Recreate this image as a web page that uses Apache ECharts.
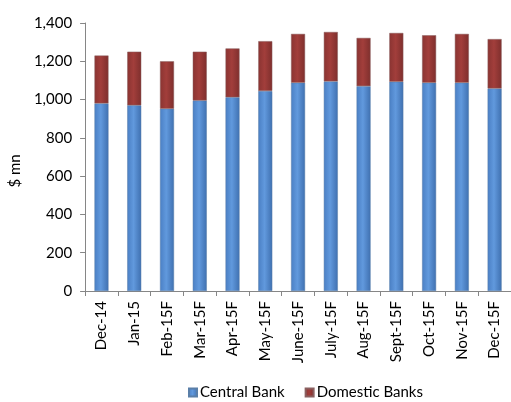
<!DOCTYPE html>
<html><head><meta charset="utf-8">
<script src="https://cdn.jsdelivr.net/npm/echarts@6/dist/echarts.min.js"></script>
<style>html,body{margin:0;padding:0;background:#fff}#c{width:511px;height:402px}</style>
</head><body><div id="c"></div>
<script>
var categories = ['Dec-14','Jan-15','Feb-15F','Mar-15F','Apr-15F','May-15F','June-15F','July-15F','Aug-15F','Sept-15F','Oct-15F','Nov-15F','Dec-15F'];
var centralBank = [980, 970, 952, 995, 1012, 1045, 1088, 1095, 1070, 1093, 1088, 1088, 1058];
var domesticBanks = [250, 280, 248, 255, 255, 260, 255, 258, 252, 255, 248, 255, 258];
var yTicks = [0, 200, 400, 600, 800, 1000, 1200, 1400];

function grad(c1, c2, c3) {
  return new echarts.graphic.LinearGradient(0, 0, 1, 0, [
    {offset: 0, color: c1}, {offset: 0.45, color: c2}, {offset: 1, color: c3}
  ]);
}
var font = 'Lato, "Open Sans", sans-serif';
var chart = echarts.init(document.getElementById('c'), null, {renderer: 'canvas'});
chart.setOption({
  animation: false,
  textStyle: {fontFamily: font},
  grid: {left: 82, top: 23, width: 440, height: 268, containLabel: false},
  legend: {
    bottom: -3, left: 183, itemWidth: 8, itemHeight: 8, itemGap: 20,
    icon: 'rect',
    textStyle: {fontFamily: font, fontSize: 15, color: '#000', padding: [0, 0, 0, -2]},
    data: ['Central Bank', 'Domestic Banks']
  },
  xAxis: {
    type: 'category', data: categories,
    axisLine: {lineStyle: {color: '#868686'}},
    axisTick: {show: true, length: 5, lineStyle: {color: '#868686'}},
    axisLabel: {rotate: 90, color: '#000', fontSize: 15, fontFamily: font, margin: 10, interval: 0}
  },
  yAxis: {
    type: 'value', min: yTicks[0], max: yTicks[yTicks.length - 1], interval: 200,
    name: '$ mn', nameLocation: 'middle', nameGap: 50, nameRotate: 90,
    nameTextStyle: {color: '#000', fontSize: 15, fontFamily: font, padding: [0, 28, 0, 0]},
    axisLine: {show: true, lineStyle: {color: '#868686'}},
    axisTick: {show: true, length: 5, lineStyle: {color: '#868686'}},
    splitLine: {show: false},
    axisLabel: {color: '#000', fontSize: 15, fontFamily: font, margin: 13,
      formatter: function (v) { return v.toLocaleString('en-US'); }}
  },
  series: [
    {name: 'Central Bank', type: 'bar', stack: 's', barWidth: 14, data: centralBank,
     itemStyle: {color: grad('#4a7fc4', '#6199dd', '#3f70b0'), borderColor: '#5a7fa8', borderWidth: 0.5}},
    {name: 'Domestic Banks', type: 'bar', stack: 's', barWidth: 14, data: domesticBanks,
     itemStyle: {color: grad('#8a3432', '#a23e3b', '#7e2f2d'), borderColor: '#8a6060', borderWidth: 0.5}}
  ]
});
</script></body></html>
